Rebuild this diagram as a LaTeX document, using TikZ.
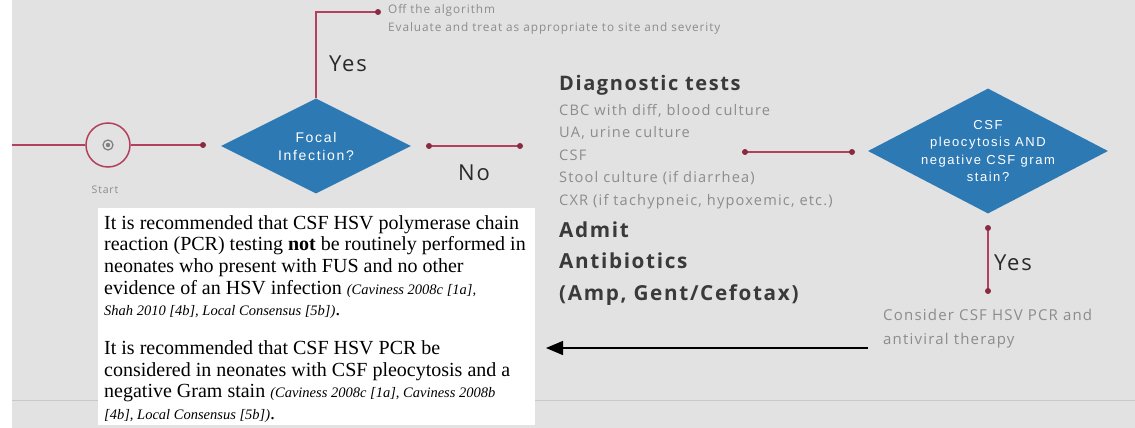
\documentclass[tikz,border=0pt]{standalone}
\usepackage{fontspec}
\setmainfont{Liberation Serif}
\newfontfamily\osans[LetterSpace=8]{Open Sans}
\newfontfamily\asans[LetterSpace=12]{Liberation Sans}
\usetikzlibrary{shapes.geometric,arrows.meta}
\definecolor{bgcol}{HTML}{E2E2E2}
\definecolor{linkred}{HTML}{B3405C}
\definecolor{dotred}{HTML}{8A2A42}
\definecolor{diablue}{HTML}{2D79B4}
\definecolor{darktxt}{HTML}{2A2A2A}
\definecolor{headtxt}{HTML}{3A3A3A}
\definecolor{greytxt}{HTML}{8C8C8C}
\definecolor{rulegrey}{HTML}{C9C9C9}
\newcommand{\citestyle}{\itshape\fontsize{14.5}{21.7}\selectfont}
\begin{document}
\begin{tikzpicture}[x=1pt,y=-1pt,
  flow/.style={draw=linkred, line width=1.5pt},
  dot/.style={circle, fill=dotred, inner sep=0pt, minimum size=6pt},
  decision/.style={diamond, fill=diablue, inner sep=0pt},
  decisiontext/.style={text=white, align=center, inner sep=0pt},
  bigword/.style={font=\osans\fontsize{22}{26}\selectfont, text=darktxt, inner sep=0pt},
  greynote/.style={text=greytxt, align=left, inner sep=0pt},
  boldhead/.style={text=headtxt, align=left, inner sep=0pt}]
\useasboundingbox (0,0) rectangle (1135,428);
% page ground
\fill[white] (0,0) rectangle (1135,428);
\fill[bgcol] (12,0) rectangle (1135,428);
\draw[rulegrey, line width=1pt] (12,400) -- (1135,400);

% start marker
\coordinate (entry) at (12,145);
\node[circle, draw=linkred, line width=1.5pt, minimum size=44pt, inner sep=0pt] (start) at (108,145) {};
\draw[gray, line width=1.2pt] (start.center) circle (5);
\fill[gray] (start.center) circle (2.2);
\node[font=\osans\fontsize{10.5}{12}\selectfont, text=greytxt] (startlbl) at (105,190) {Start};
\coordinate (s1) at (203,145);
\draw[flow] (entry) -- (start.west);
\draw[flow] (start.east) -- (s1);
\node[dot] at (s1) {};

% first decision
\node[decision, minimum width=190pt, minimum height=95pt, aspect=2] (focal) at (316,146) {};
\node[decisiontext, font=\asans\fontsize{14}{18}\selectfont] (focaltxt) at (focal.center) {Focal\\Infection?};

% yes branch off the algorithm
\coordinate (bend) at (316,12);
\coordinate (off) at (378,12);
\draw[flow] (focal.north) -- (bend) -- (off);
\node[dot] at (off) {};
\node[greynote, font=\osans\fontsize{11.8}{18}\selectfont, anchor=north west] (offtxt) at (388,4.3)
  {Off the algorithm\\Evaluate and treat as appropriate to site and severity};
\node[bigword, anchor=base] (yes1) at (348,72) {Yes};

% no branch
\coordinate (n1) at (429,146);
\coordinate (n2) at (520,146);
\draw[flow] (n1) -- (n2);
\node[dot] at (n1) {};
\node[dot] at (n2) {};
\node[bigword, anchor=base] (no) at (474,180) {No};

% workup block
\node[boldhead, font=\osans\bfseries\fontsize{20}{30}\selectfont, anchor=base west] (diaghead) at (559,90) {Diagnostic tests};
\node[greynote, font=\osans\fontsize{14.6}{22.5}\selectfont, anchor=north west] (diaglist) at (559,104)
  {CBC with diff, blood culture\\UA, urine culture\\CSF\\Stool culture (if diarrhea)\\CXR (if tachypneic, hypoxemic, etc.)};
\node[boldhead, font=\osans\bfseries\fontsize{20.7}{31.5}\selectfont, anchor=north west] (treat) at (559,221.5)
  {Admit\\Antibiotics\\(Amp, Gent/Cefotax)};

% link to second decision
\coordinate (c1) at (745,152);
\coordinate (c2) at (852,152);
\draw[flow] (c1) -- (c2);
\node[dot] at (c1) {};
\node[dot] at (c2) {};

\node[decision, minimum width=240pt, minimum height=125pt, aspect=1.92] (csf) at (988,151) {};
\node[decisiontext, font=\asans\fontsize{13}{17.5}\selectfont] (csftxt) at (csf.center)
  {CSF\\pleocytosis AND\\negative CSF gram\\stain?};

% yes branch of second decision
\coordinate (y1) at (988,228);
\coordinate (y2) at (988,291);
\draw[flow] (y1) -- (y2);
\node[dot] at (y1) {};
\node[dot] at (y2) {};
\node[bigword, anchor=base west] (yes2) at (994,270) {Yes};
\node[greynote, font=\osans\fontsize{15}{24}\selectfont, anchor=north west] (consider) at (883,309)
  {Consider CSF HSV PCR and\\antiviral therapy};

% recommendation panel
\node[fill=white, inner sep=0pt, minimum width=437pt, minimum height=217pt, anchor=north west] (rec) at (98,208) {};
\node[anchor=north west, inner sep=0pt, align=left, text=black,
      font=\fontsize{20}{21.7}\selectfont] (rectxt) at (104,215)
  {It is recommended that CSF HSV polymerase chain\\
   reaction (PCR) testing \textbf{not} be routinely performed in\\
   neonates who present with FUS and no other\\
   evidence of an HSV infection {\citestyle (Caviness 2008c [1a],}\\
   {\citestyle Shah 2010 [4b], Local Consensus [5b])}.\\[17pt]
   It is recommended that CSF HSV PCR be\\
   considered in neonates with CSF pleocytosis and a\\
   negative Gram stain {\citestyle (Caviness 2008c [1a], Caviness 2008b}\\
   {\citestyle [4b], Local Consensus [5b])}.};

% back-reference arrow
\coordinate (a1) at (868,348);
\coordinate (a2) at (546,348);
\draw[black, line width=1.3pt, -{Triangle[length=17pt,width=14pt]}] (a1) -- (a2);
\end{tikzpicture}
\end{document}
